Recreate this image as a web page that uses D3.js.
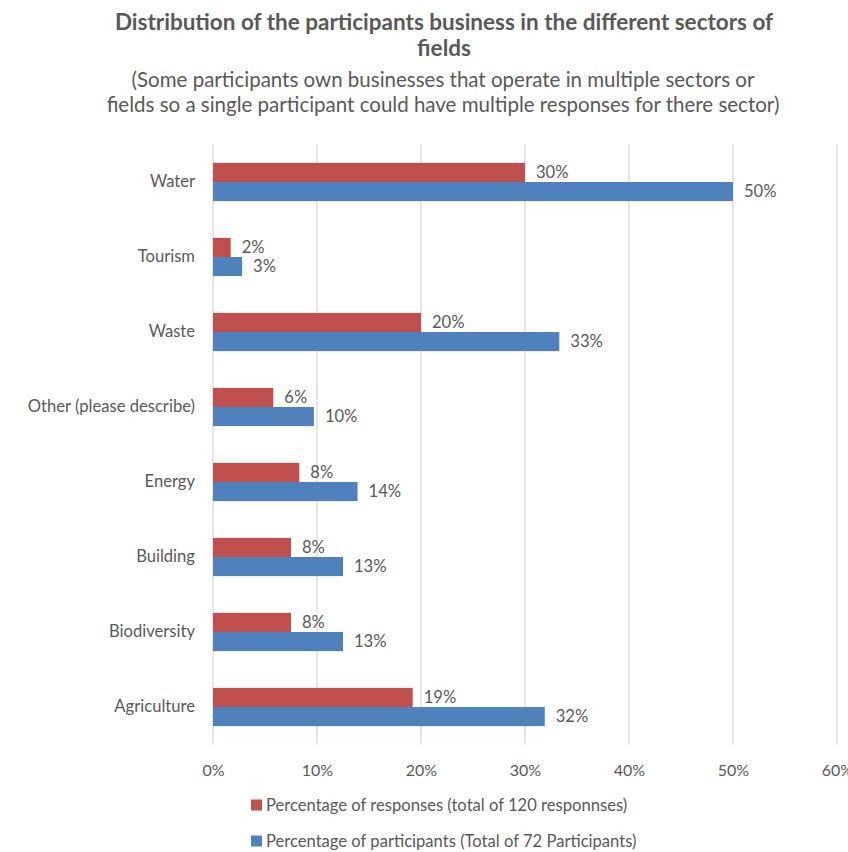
<!DOCTYPE html>
<html><head><meta charset="utf-8">
<script src="https://cdn.jsdelivr.net/npm/d3@7"></script>
<style>body{margin:0;background:#fff;} svg{display:block;}</style>
</head><body>
<svg id="c" width="848" height="852"></svg>
<script>
const categories = ["Water","Tourism","Waste","Other (please describe)","Energy","Building","Biodiversity","Agriculture"];
const responsesPct = [30, 1.7, 20, 5.8, 8.3, 7.5, 7.5, 19.2];
const participantsPct = [50, 2.8, 33.3, 9.7, 13.9, 12.5, 12.5, 31.9];
const seriesNames = ["Percentage of responses (total of 120 responnses)","Percentage of participants (Total of 72 Participants)"];
const xTicks = [0,10,20,30,40,50,60];
const titleLines = ["Distribution of the participants business in the different sectors of","fields"];
const subtitleLines = ["(Some participants own businesses that operate in multiple sectors or","fields so a single participant could have multiple responses for there sector)"];

const colors = ["#C0504D","#4F81BD"];
const font = "Lato, 'Open Sans', sans-serif";
const textCol = "#595959";
const svg = d3.select("#c");

const x = d3.scaleLinear().domain([0,60]).range([213,837]);
const y = d3.scaleBand().domain(categories).range([144.5,744.5]).paddingInner(0.49).paddingOuter(0.245);
const inner = d3.scaleBand().domain([0,1]).range([0,y.bandwidth()]);

// gridlines
svg.append("g").selectAll("line").data(xTicks).join("line")
  .attr("x1",d=>x(d)).attr("x2",d=>x(d)).attr("y1",144.5).attr("y2",744.5)
  .attr("stroke","#d9d9d9").attr("stroke-width",1.3);

// axis tick labels
const xAxis = d3.axisBottom(x).tickValues(xTicks).tickFormat(d=>d+"%").tickSize(0).tickPadding(0);
const ga = svg.append("g").attr("transform","translate(0,776)").call(xAxis);
ga.select(".domain").remove();
ga.selectAll("text").attr("font-family",font).attr("font-size",16).attr("fill",textCol).attr("dy",0);

// category labels
const yAxis = d3.axisLeft(y).tickSize(0).tickPadding(18);
const gy = svg.append("g").attr("transform","translate(213,0)").call(yAxis);
gy.select(".domain").remove();
gy.selectAll("text").attr("font-family",font).attr("font-size",16.6).attr("fill",textCol);

const series = [responsesPct, participantsPct];
series.forEach((vals,si)=>{
  const g = svg.append("g");
  g.selectAll("rect").data(vals).join("rect")
    .attr("x",x(0)).attr("y",(d,i)=>y(categories[i])+inner(si))
    .attr("width",d=>x(d)-x(0)).attr("height",inner.bandwidth())
    .attr("fill",colors[si]);
  g.selectAll("text").data(vals).join("text")
    .attr("x",d=>x(d)+11).attr("y",(d,i)=>y(categories[i])+inner(si)+inner.bandwidth()/2)
    .attr("dy","0.35em")
    .attr("font-family",font).attr("font-size",16.6).attr("fill",textCol)
    .text(d=>Math.round(d)+"%");
});

// title
svg.append("g").selectAll("text").data(titleLines).join("text")
  .attr("x",444).attr("y",(d,i)=>30+i*26).attr("text-anchor","middle")
  .attr("font-family",font).attr("font-weight","bold").attr("font-size",22.5).attr("fill",textCol)
  .text(d=>d);
svg.append("g").selectAll("text").data(subtitleLines).join("text")
  .attr("x",443).attr("y",(d,i)=>87+i*25).attr("text-anchor","middle")
  .attr("font-family",font).attr("font-size",20.5).attr("fill",textCol)
  .text(d=>d);

// legend
const lg = svg.append("g").selectAll("g").data(seriesNames).join("g")
  .attr("transform",(d,i)=>`translate(251,${805+i*36})`);
lg.append("rect").attr("x",0).attr("y",-5.5).attr("width",11).attr("height",11).attr("fill",(d,i)=>colors[i]);
lg.append("text").attr("x",15).attr("y",0).attr("dy","0.35em")
  .attr("font-family",font).attr("font-size",16.6).attr("fill",textCol).text(d=>d);
</script>
</body></html>
